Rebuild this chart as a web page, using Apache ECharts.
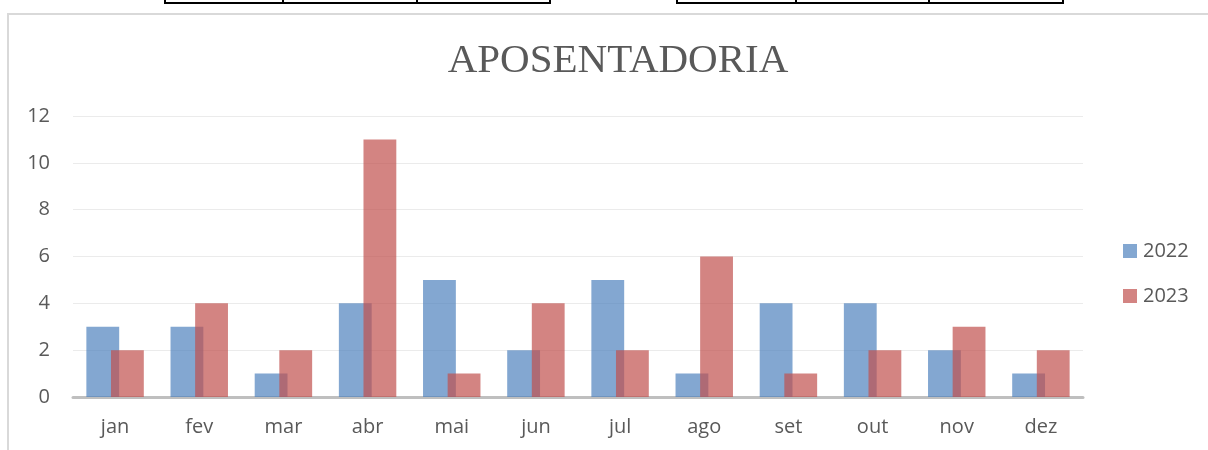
<!DOCTYPE html>
<html>
<head>
<meta charset="utf-8">
<script src="https://cdn.jsdelivr.net/npm/echarts@6/dist/echarts.min.js"></script>
<style>
  html, body { margin: 0; padding: 0; background: #fff; }
  #chart { width: 1208px; height: 450px; }
</style>
</head>
<body>
<div id="chart"></div>
<script>
const months = ['jan', 'fev', 'mar', 'abr', 'mai', 'jun', 'jul', 'ago', 'set', 'out', 'nov', 'dez'];
const v2022 = [3, 3, 1, 4, 5, 2, 5, 1, 4, 4, 2, 1];
const v2023 = [2, 4, 2, 11, 1, 4, 2, 6, 1, 2, 3, 2];

const chart = echarts.init(document.getElementById('chart'));

// moldura do gráfico e pedaço da tabela acima
const frame = [
  { type: 'rect', shape: { x: 8, y: 14, width: 1300, height: 500 }, style: { fill: 'none', stroke: '#d9d9d9', lineWidth: 2 }, silent: true },
  { type: 'rect', shape: { x: 165, y: -10, width: 385, height: 13 }, style: { fill: 'none', stroke: '#000', lineWidth: 2 }, silent: true },
  { type: 'line', shape: { x1: 283, y1: -10, x2: 283, y2: 3 }, style: { stroke: '#000', lineWidth: 2 }, silent: true },
  { type: 'line', shape: { x1: 417, y1: -10, x2: 417, y2: 3 }, style: { stroke: '#000', lineWidth: 2 }, silent: true },
  { type: 'rect', shape: { x: 677, y: -10, width: 386, height: 13 }, style: { fill: 'none', stroke: '#000', lineWidth: 2 }, silent: true },
  { type: 'line', shape: { x1: 796, y1: -10, x2: 796, y2: 3 }, style: { stroke: '#000', lineWidth: 2 }, silent: true },
  { type: 'line', shape: { x1: 929, y1: -10, x2: 929, y2: 3 }, style: { stroke: '#000', lineWidth: 2 }, silent: true }
];

chart.setOption({
  animation: false,
  graphic: frame,
  title: {
    text: 'APOSENTADORIA',
    left: 613,
    textAlign: 'center',
    top: 36,
    textStyle: { fontFamily: 'Liberation Serif', fontSize: 41, fontWeight: 'normal', color: '#595959' }
  },
  legend: {
    orient: 'vertical',
    left: 1118,
    top: 236,
    itemWidth: 14,
    itemHeight: 14,
    itemGap: 25,
    icon: 'rect',
    textStyle: { fontFamily: 'Open Sans', fontSize: 20, color: '#595959', padding: [0, 0, 0, 1] },
    data: ['2022', '2023']
  },
  grid: { left: 73, right: 125, top: 116, bottom: 53 },
  xAxis: {
    type: 'category',
    data: months,
    axisTick: { show: false },
    axisLine: { lineStyle: { color: '#bfbfbf', width: 3 } },
    axisLabel: { fontFamily: 'Open Sans', fontSize: 20, color: '#595959', margin: 20 }
  },
  yAxis: {
    type: 'value',
    min: 0,
    max: 12,
    interval: 2,
    axisLine: { show: false },
    axisTick: { show: false },
    splitLine: { lineStyle: { color: '#ebebeb', width: 1 } },
    axisLabel: { fontFamily: 'Open Sans', fontSize: 20, color: '#595959', margin: 23 }
  },
  series: [
    {
      name: '2022',
      type: 'bar',
      data: v2022,
      barWidth: '39%',
      barGap: '-25%',
      itemStyle: { color: '#4f81bd', opacity: 0.7 }
    },
    {
      name: '2023',
      type: 'bar',
      data: v2023,
      barWidth: '39%',
      itemStyle: { color: '#c0504d', opacity: 0.7 }
    }
  ]
});
</script>
</body>
</html>
